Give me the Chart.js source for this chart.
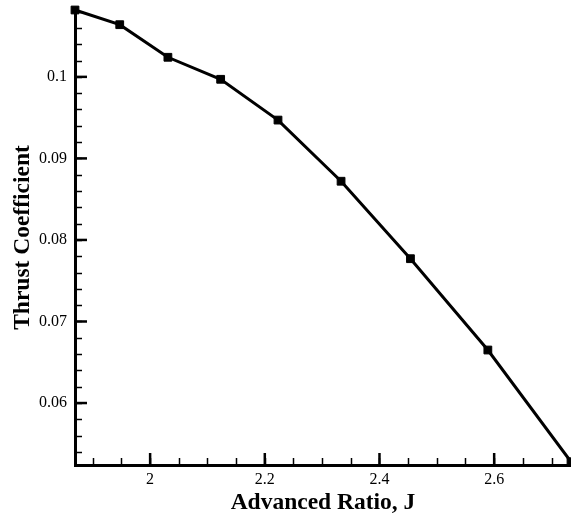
<!DOCTYPE html>
<html>
<head>
<meta charset="utf-8">
<script src="https://cdn.jsdelivr.net/npm/chart.js@4.4.1/dist/chart.umd.min.js"></script>
<style>
  body { margin: 0; background: #fff; }
  canvas { display: block; }
</style>
</head>
<body>
<canvas id="myChart" width="571" height="519"></canvas>
<script>
// values
const advRatio = [1.869, 1.947, 2.031, 2.123, 2.223, 2.333, 2.454, 2.589, 2.734];
const thrustCoef = [0.1082, 0.1064, 0.1024, 0.0997, 0.0947, 0.0872, 0.0777, 0.0665, 0.0528];

const xTicks = [2, 2.2, 2.4, 2.6];
const yTicks = [0.06, 0.07, 0.08, 0.09, 0.1];
const xRange = [1.869, 2.734];
const yRange = [0.0524, 0.1082];
const xMinorStep = 0.05;
const yMinorStep = 0.002;

const serif = "'Liberation Serif', 'Times New Roman', serif";

// ticks point inward, like the original plot
const inwardTicks = {
  id: 'inwardTicks',
  afterDraw(chart) {
    const ctx = chart.ctx;
    const xs = chart.scales.x;
    const ys = chart.scales.y;
    const area = chart.chartArea;
    ctx.save();
    ctx.strokeStyle = '#000';

    ctx.lineWidth = 1.5;
    for (let v = xRange[0] - (xRange[0] % xMinorStep) + xMinorStep; v < xRange[1]; v += xMinorStep) {
      const px = Math.round(xs.getPixelForValue(v)) + 0.5;
      ctx.beginPath(); ctx.moveTo(px, area.bottom); ctx.lineTo(px, area.bottom - 7); ctx.stroke();
    }
    for (let v = yRange[0] - (yRange[0] % yMinorStep) + yMinorStep; v < yRange[1]; v += yMinorStep) {
      const py = Math.round(ys.getPixelForValue(v)) + 0.5;
      ctx.beginPath(); ctx.moveTo(area.left, py); ctx.lineTo(area.left + 7, py); ctx.stroke();
    }

    ctx.lineWidth = 2.5;
    xTicks.forEach(v => {
      const px = xs.getPixelForValue(v);
      ctx.beginPath(); ctx.moveTo(px, area.bottom); ctx.lineTo(px, area.bottom - 12); ctx.stroke();
    });
    yTicks.forEach(v => {
      const py = ys.getPixelForValue(v);
      ctx.beginPath(); ctx.moveTo(area.left, py); ctx.lineTo(area.left + 12, py); ctx.stroke();
    });
    ctx.restore();
  }
};

const ctx = document.getElementById('myChart');

new Chart(ctx, {
  type: 'line',
  data: {
    datasets: [{
      data: advRatio.map((x, i) => ({ x: x, y: thrustCoef[i] })),
      borderColor: '#000',
      borderWidth: 3,
      tension: 0,
      pointStyle: 'rect',
      pointRadius: 5.5,
      pointBackgroundColor: '#000',
      pointBorderColor: '#000',
      pointBorderWidth: 1,
      clip: { left: 8, top: 8, right: 0, bottom: 0 }
    }]
  },
  options: {
    responsive: false,
    animation: false,
    devicePixelRatio: 1,
    layout: { autoPadding: false, padding: { top: 10, right: 0, left: 0, bottom: 0 } },
    plugins: { legend: { display: false }, tooltip: { enabled: false } },
    scales: {
      x: {
        type: 'linear',
        min: xRange[0],
        max: xRange[1],
        afterBuildTicks: s => { s.ticks = xTicks.map(v => ({ value: v })); },
        afterFit: s => { s.height = 54; s.paddingLeft = 0; s.paddingRight = 0; },
        grid: { display: false, drawTicks: false },
        border: { display: true, color: '#000', width: 3 },
        ticks: {
          padding: 5,
          maxRotation: 0,
          color: '#000',
          font: { family: serif, size: 16 },
          callback: v => String(v)
        },
        title: {
          display: true,
          text: 'Advanced Ratio, J',
          color: '#000',
          font: { family: serif, size: 23.5, weight: 'bold' },
          padding: { top: 0, bottom: 2 }
        }
      },
      y: {
        type: 'linear',
        min: yRange[0],
        max: yRange[1],
        afterBuildTicks: s => { s.ticks = yTicks.map(v => ({ value: v })); },
        afterFit: s => { s.width = 75; s.paddingTop = 0; s.paddingBottom = 0; },
        grid: { display: false, drawTicks: false },
        border: { display: true, color: '#000', width: 3 },
        ticks: {
          padding: 8,
          color: '#000',
          font: { family: serif, size: 16 },
          callback: v => String(v)
        },
        title: {
          display: true,
          text: 'Thrust Coefficient',
          color: '#000',
          font: { family: serif, size: 23.5, weight: 'bold' },
          padding: { top: 9, bottom: 0 }
        }
      }
    }
  },
  plugins: [inwardTicks]
});
</script>
</body>
</html>
